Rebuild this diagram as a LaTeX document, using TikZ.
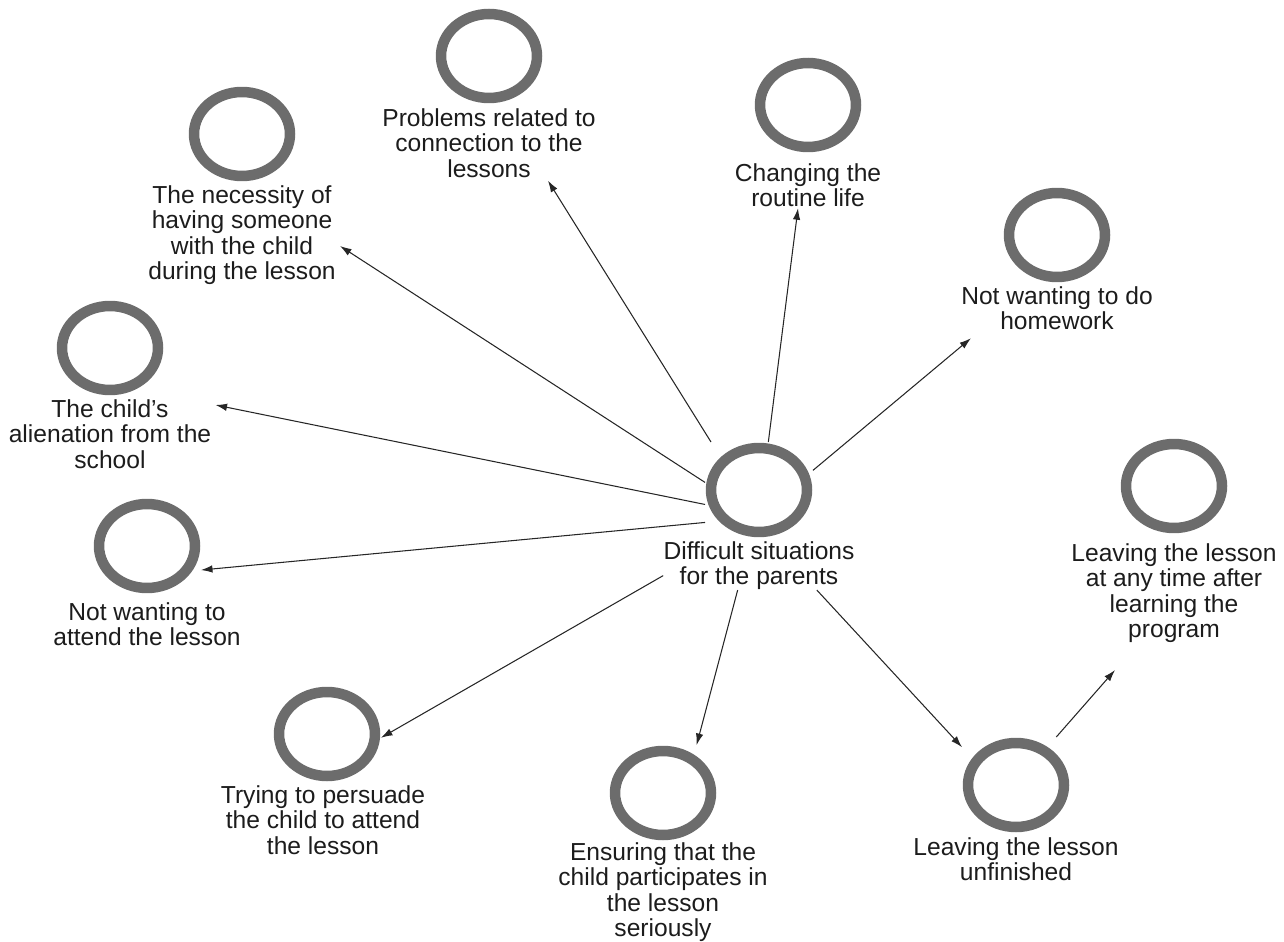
\documentclass[tikz,border=0pt]{standalone}
\usepackage{fontspec}
\setmainfont{Liberation Sans}
\usepackage{tikz}
\usetikzlibrary{arrows.meta, positioning}
\definecolor{ringGray}{RGB}{108,108,108}
\definecolor{txtDark}{RGB}{28,28,28}

\begin{document}
\begin{tikzpicture}[
    x=0.02cm, y=-0.02cm,
    font=\fontsize{14pt}{14.5pt}\selectfont, >=Latex,
    ring/.style={rectangle, minimum width=2.16cm, minimum height=1.92cm,
                inner sep=0pt, outer sep=0pt,
                path picture={\draw[ringGray, line width=0.21cm]
                    (path picture bounding box.center) ellipse (0.96cm and 0.84cm);}},
    lbl/.style={align=center, inner sep=0pt, text=txtDark},
    arr/.style={-{Latex[length=2.3mm, width=1.5mm]}, line width=0.6pt, draw=black!85}
]
\useasboundingbox (0,0) rectangle (1284,942);

% Centre: the core category
\node[ring] (hub) at (759,490) {};
\node[lbl, below=0.06cm of hub] (hubL) {Difficult situations\\for the parents};

% Upper half, left to right
\node[ring] (alien) at (110,348) {};
\node[lbl, below=0.06cm of alien] (alienL) {The child's\\alienation from the\\school};
\node[ring] (nec) at (242,134) {};
\node[lbl, below=0.06cm of nec] (necL) {The necessity of\\having someone\\with the child\\during the lesson};
\node[ring] (prob) at (489,56) {};
\node[lbl, below=0.08cm of prob] (probL) {Problems related to\\connection to the\\lessons};
\node[ring] (rout) at (808,105) {};
\node[lbl, below=0.2cm of rout] (routL) {Changing the\\routine life};
\node[ring] (home) at (1057,235) {};
\node[lbl, below=0.06cm of home] (homeL) {Not wanting to do\\homework};

% Lower half, left to right
\node[ring] (attend) at (147,546) {};
\node[lbl, below=0.16cm of attend] (attendL) {Not wanting to\\attend the lesson};
\node[ring] (persu) at (327,734) {};
\node[lbl, below=0.06cm of persu, xshift=-0.08cm] (persuL) {Trying to persuade\\the child to attend\\the lesson};
\node[ring] (ensure) at (663,793) {};
\node[lbl, below=0.02cm of ensure] (ensureL) {Ensuring that the\\child participates in\\the lesson\\seriously};
\node[ring] (unfin) at (1016,785) {};
\node[lbl, below=0.08cm of unfin] (unfinL) {Leaving the lesson\\unfinished};
\node[ring] (any) at (1174,486) {};
\node[lbl, below=0.18cm of any] (anyL) {Leaving the lesson\\at any time after\\learning the\\program};

% hub -> the outer topics
\draw[arr] (hub.135) -- ([shift={(59,3)}]probL.south);
\draw[arr] (hub.79) -- ([shift={(-10,1)}]routL.south);
\draw[arr] (hub.172) -- ([shift={(4,11)}]necL.east);
\draw[arr] (hub.20) -- ([shift={(10,8)}]homeL.south west);
\draw[arr] (hub.195) -- ([shift={(4,6)}]alienL.north east);
\draw[arr] (hub.211) -- (attend.-24);
\draw[arr] (hubL.186) -- (persu.-4);
\draw[arr] (hubL.229) -- (ensure.55);
\draw[arr] (hubL.-23) -- (unfin.145);

% unfinished -> leaving at any time
\draw[arr] (unfin.50) -- ([shift={(-59,27)}]anyL.south);

\end{tikzpicture}
\end{document}
